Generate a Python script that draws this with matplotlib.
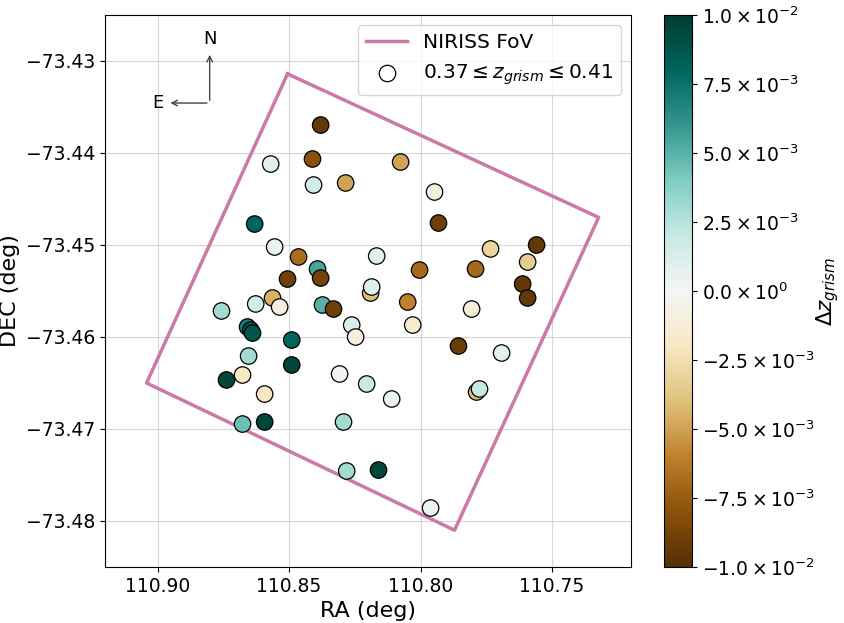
import matplotlib
matplotlib.use("Agg")
import matplotlib.pyplot as plt
from matplotlib.ticker import FuncFormatter
import numpy as np

# galaxy positions (deg) and redshift offsets
ra = [110.8380, 110.8411, 110.8570, 110.8407, 110.8285, 110.8631, 110.8555,
      110.8464, 110.8392, 110.8380, 110.8506, 110.8076, 110.7947, 110.7932,
      110.8167, 110.7734, 110.7559, 110.7593, 110.8004, 110.7791, 110.7612,
      110.7593, 110.8190, 110.8186, 110.8049, 110.8030, 110.7806, 110.7856,
      110.7692, 110.7787, 110.7776, 110.8205, 110.8110, 110.8160, 110.7962,
      110.8757, 110.8627, 110.8563, 110.8536, 110.8658, 110.8646, 110.8639,
      110.8373, 110.8331, 110.8262, 110.8247, 110.8490, 110.8654, 110.8490,
      110.8308, 110.8677, 110.8738, 110.8593, 110.8677, 110.8593, 110.8293,
      110.8281]
dec = [-73.43696, -73.44065, -73.44120, -73.44348, -73.44326, -73.44772, -73.45022,
       -73.45130, -73.45261, -73.45359, -73.45370, -73.44098, -73.44424, -73.44761,
       -73.45120, -73.45043, -73.45000, -73.45185, -73.45272, -73.45261, -73.45424,
       -73.45576, -73.45522, -73.45457, -73.45620, -73.45870, -73.45696, -73.46098,
       -73.46174, -73.46598, -73.46565, -73.46511, -73.46674, -73.47446, -73.47859,
       -73.45717, -73.45641, -73.45576, -73.45674, -73.45891, -73.45924, -73.45957,
       -73.45652, -73.45696, -73.45870, -73.46000, -73.46033, -73.46207, -73.46304,
       -73.46402, -73.46413, -73.46467, -73.46620, -73.46946, -73.46924, -73.46924,
       -73.47457]
dz = [-0.0095, -0.0080, 0.0008, 0.0015, -0.0050, 0.0080, 0.0004,
      -0.0068, 0.0055, -0.0088, -0.0090, -0.0050, -0.0008, -0.0090,
      0.0008, -0.0030, -0.0095, -0.0035, -0.0070, -0.0070, -0.0095,
      -0.0095, -0.0040, 0.0010, -0.0060, -0.0015, -0.0012, -0.0092,
      0.0008, -0.0040, 0.0020, 0.0020, 0.0004, 0.0095, 0.0004,
      0.0030, 0.0015, -0.0045, -0.0010, 0.0070, 0.0085, 0.0088,
      0.0050, -0.0090, 0.0012, -0.0010, 0.0080, 0.0030, 0.0095,
      0.0003, -0.0018, 0.0095, -0.0020, 0.0045, 0.0095, 0.0030,
      0.0030]

# NIRISS field of view corners
fov_ra = [110.8506, 110.7323, 110.7871, 110.9042, 110.8506]
fov_dec = [-73.4314, -73.4470, -73.4810, -73.4650, -73.4314]


def sci_fmt(x, pos):
    if abs(x) < 1e-12:
        return r"$0.0\times10^{0}$"
    exp = int(np.floor(np.log10(abs(x)) + 1e-9))
    mant = x / 10**exp
    return r"$%.1f\times10^{%d}$" % (mant, exp)


fig = plt.figure(figsize=(8.44, 6.23), dpi=100)
ax = fig.add_axes([105 / 844, 56 / 623, 526 / 844, 552 / 623])
cax = fig.add_axes([664 / 844, 56 / 623, 28 / 844, 552 / 623])

ax.plot(fov_ra, fov_dec, color="#CC79A7", lw=2.5, label="NIRISS FoV", zorder=2)
sc = ax.scatter(ra, dec, c=dz, cmap="BrBG", vmin=-0.01, vmax=0.01, s=140,
                edgecolors="k", linewidths=0.9, zorder=3)
ax.scatter([], [], s=140, facecolors="white", edgecolors="k", linewidths=0.9,
           label=r"$0.37 \leq z_{grism} \leq 0.41$")

# compass
x0, y0 = 110.8802, -73.43457
ax.annotate("", xy=(x0, -73.42902), xytext=(x0, y0),
            arrowprops=dict(arrowstyle="->", color="#444444", lw=1.0))
ax.annotate("", xy=(110.8962, y0), xytext=(x0, y0),
            arrowprops=dict(arrowstyle="->", color="#444444", lw=1.0))
ax.text(x0, -73.4276, "N", ha="center", va="center", fontsize=13)
ax.text(110.9, y0, "E", ha="center", va="center", fontsize=13)

ax.set_xlim(110.920, 110.720)
ax.set_ylim(-73.485, -73.425)
ax.set_xticks([110.90, 110.85, 110.80, 110.75])
ax.set_yticks([-73.48, -73.47, -73.46, -73.45, -73.44, -73.43])
ax.tick_params(labelsize=13.5)
ax.grid(True, color="#cccccc", lw=0.8, alpha=0.8)
ax.set_axisbelow(True)
ax.set_xlabel("RA (deg)", fontsize=16)
ax.set_ylabel("DEC (deg)", fontsize=16)
ax.legend(loc="upper right", fontsize=14.5)

cb = fig.colorbar(sc, cax=cax, format=FuncFormatter(sci_fmt))
cb.set_ticks(np.linspace(-0.01, 0.01, 9))
cb.ax.tick_params(labelsize=13.5)
cb.set_label(r"$\Delta z_{grism}$", fontsize=15.5, labelpad=0)

fig.savefig("out.png", dpi=100)
